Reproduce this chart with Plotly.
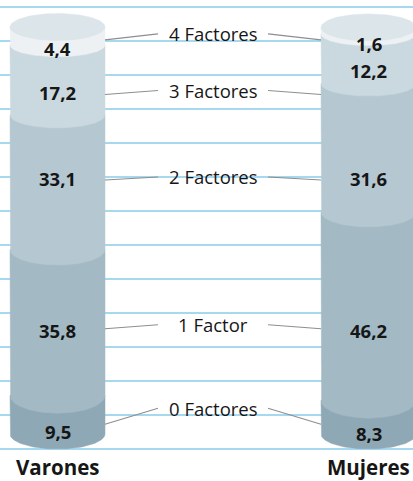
import numpy as np
import plotly.graph_objects as go

# ---------------- data ----------------
factores = ["0 Factores", "1 Factor", "2 Factores", "3 Factores", "4 Factores"]
grupos = ["Varones", "Mujeres"]
varones = [9.5, 35.8, 33.1, 17.2, 4.4]
mujeres = [8.3, 46.2, 31.6, 12.2, 1.6]

# ---------------- layout constants ----------------
W, H = 413, 481
PX_PER_PCT = 4.07          # vertical scale (px per percentage point)
BASE_PX = 434              # pixel row of 0 %
CENTER0_PX = 57.5          # centre of first cylinder
STEP_PX = 311              # distance between cylinder centres
HALF_PX = 47.5             # cylinder half width
seg_colors = ["#8fa8b5", "#a3b9c4", "#b5c8d1", "#cad8df", "#edf1f3"]
top_color = "#dce5ea"
grid_color = "#a6d8f0"
line_color = "#8e8e8e"
text_color = "#161616"
FONT = "Open Sans"

center_nudge_px = [-24, -6, -2, 9, -12]   # central label shift vs mean of value labels
edge_drop_px = [16, 4, 3, 4, 6]           # connector end on cylinder vs central label

# axis ranges derived from pixel geometry
y_top = BASE_PX / PX_PER_PCT
y_bot = (BASE_PX - H) / PX_PER_PCT
x_left = -CENTER0_PX / STEP_PX
x_right = (W - CENTER0_PX) / STEP_PX
w = HALF_PX / STEP_PX


def ry_boundary(v):
    return (11.5 + 7 * (1 - v / 100)) / PX_PER_PCT


RY_TOP = 13.5 / PX_PER_PCT
RY_BOTTOM = 15 / PX_PER_PCT

fig = go.Figure()
t = np.linspace(0, np.pi, 80)
series = [varones, mujeres]
label_v = []
for i, vals in enumerate(series):
    xc = float(i)
    cum = np.concatenate([[0], np.cumsum(vals)])
    mids = []
    for k in range(len(vals)):
        lo, hi = cum[k], cum[k + 1]
        ry_lo = RY_BOTTOM if k == 0 else ry_boundary(lo)
        ry_hi = RY_TOP if k == len(vals) - 1 else ry_boundary(hi)
        ex = xc - w * np.cos(t)
        ey = lo - ry_lo * np.sin(t)
        xs = np.concatenate([[xc - w], ex, [xc + w, xc - w]])
        ys = np.concatenate([[hi], ey, [hi, hi]])
        fig.add_trace(go.Scatter(x=xs, y=ys, mode="lines", fill="toself",
                                 fillcolor=seg_colors[k],
                                 line=dict(color=seg_colors[k], width=0.5),
                                 hoverinfo="skip", showlegend=False))
        mids.append(((hi - ry_hi) + (lo - ry_lo)) / 2)
    tt = np.linspace(0, 2 * np.pi, 120)
    fig.add_trace(go.Scatter(x=xc + w * np.cos(tt), y=cum[-1] + RY_TOP * np.sin(tt),
                             mode="lines", fill="toself", fillcolor=top_color,
                             line=dict(color=top_color, width=0.5),
                             hoverinfo="skip", showlegend=False))
    label_v.append(mids)

# align the middle categories across cylinders
for k in (1, 2):
    m = (label_v[0][k] + label_v[1][k]) / 2
    label_v[0][k] = m
    label_v[1][k] = m

annotations = []
x_mid = 0.5
gap = 0.177
for k, name in enumerate(factores):
    mean_v = (label_v[0][k] + label_v[1][k]) / 2
    v_text = mean_v - center_nudge_px[k] / PX_PER_PCT
    v_edge = v_text - edge_drop_px[k] / PX_PER_PCT
    fig.add_trace(go.Scatter(x=[0 + w, x_mid - gap], y=[v_edge, v_text], mode="lines",
                             line=dict(color=line_color, width=1.1),
                             hoverinfo="skip", showlegend=False))
    fig.add_trace(go.Scatter(x=[x_mid + gap, 1 - w], y=[v_text, v_edge], mode="lines",
                             line=dict(color=line_color, width=1.1),
                             hoverinfo="skip", showlegend=False))
    annotations.append(dict(x=x_mid, y=v_text, xref="x", yref="y", text=name,
                            showarrow=False, xanchor="center", yanchor="middle",
                            font=dict(family=FONT, size=18.5, color=text_color)))
    for i, vals in enumerate(series):
        annotations.append(dict(x=float(i), y=label_v[i][k], xref="x", yref="y",
                                text=f"{vals[k]:.1f}".replace(".", ","),
                                showarrow=False, xanchor="center", yanchor="middle",
                                font=dict(family=FONT, size=18.5, color=text_color,
                                          weight="bold")))

for i, g in enumerate(grupos):
    annotations.append(dict(x=float(i), y=(BASE_PX - 467) / PX_PER_PCT, xref="x", yref="y",
                            text=g, showarrow=False, xanchor="center", yanchor="middle",
                            font=dict(family=FONT, size=20.5, color=text_color, weight="bold")))

fig.update_layout(
    width=W, height=H, autosize=False,
    margin=dict(l=0, r=0, t=0, b=0, pad=0),
    paper_bgcolor="white", plot_bgcolor="white",
    annotations=annotations,
    xaxis=dict(range=[x_left, x_right], visible=False, fixedrange=True),
    yaxis=dict(range=[y_bot, y_top], showgrid=True, gridcolor=grid_color, gridwidth=1.5,
               tick0=(BASE_PX - 449) / PX_PER_PCT, dtick=34 / PX_PER_PCT,
               showticklabels=False, ticks="", zeroline=False, showline=False,
               fixedrange=True),
    showlegend=False,
)

fig.write_html("out.html")
